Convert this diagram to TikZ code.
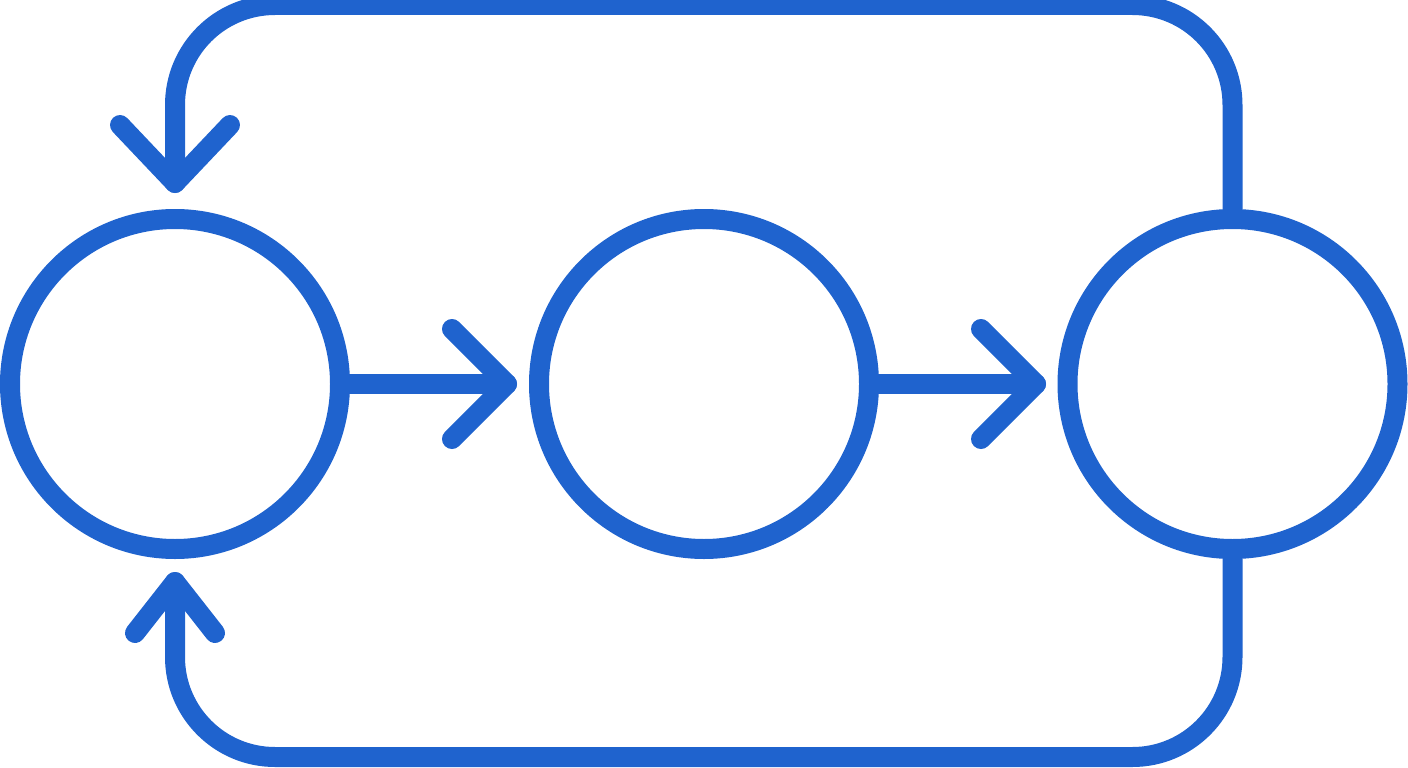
\documentclass[tikz,border=0pt]{standalone}
\usetikzlibrary{calc}
\definecolor{lineblue}{RGB}{31,99,206}
\begin{document}
\begin{tikzpicture}[x=1pt,y=-1pt,
  stage/.style={circle,draw=lineblue,line width=20pt,minimum size=330pt,inner sep=0pt},
  conn/.style={draw=lineblue,line width=20pt,line cap=round,line join=round},
  loopline/.style={conn,rounded corners=100pt},
  chev/.style={draw=lineblue,line width=20pt,line cap=round,line join=round}]
\useasboundingbox (0,0) rectangle (1408,768);
\node[stage] (A) at (175,384) {};
\node[stage] (B) at (704,384) {};
\node[stage] (C) at (1232.5,384) {};
% tips
\coordinate (t1) at (507,384);
\coordinate (t2) at (1036,384);
\coordinate (t3) at (175,183);
\coordinate (t4) at (175,582);
% connectors
\draw[conn] (A.east) -- (t1);
\draw[conn] (B.east) -- (t2);
\draw[loopline] (C.north) |- (175,5) -- (t3);
\draw[loopline] (C.south) |- (175,757) -- (t4);
% arrowheads
\draw[chev] ($(t1)+(-55,-55)$) -- (t1) -- ($(t1)+(-55,55)$);
\draw[chev] ($(t2)+(-55,-55)$) -- (t2) -- ($(t2)+(-55,55)$);
\draw[chev] ($(t3)+(-55,-58)$) -- (t3) -- ($(t3)+(55,-58)$);
\draw[chev] ($(t4)+(-40,51)$) -- (t4) -- ($(t4)+(40,51)$);
\end{tikzpicture}
\end{document}
